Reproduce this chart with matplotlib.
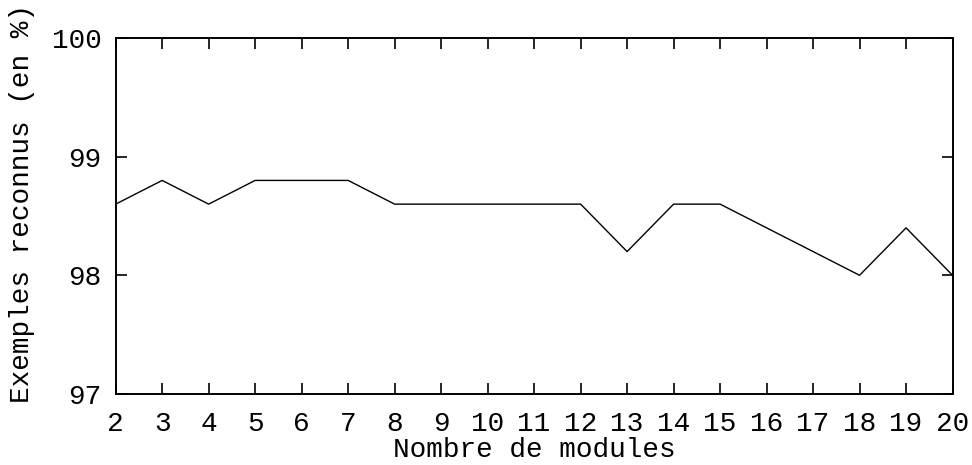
import matplotlib
matplotlib.use("Agg")
import matplotlib.pyplot as plt

# =========================
# Data
# =========================
nb_modules = [2, 3, 4, 5, 6, 7, 8, 9, 10, 11, 12, 13, 14, 15, 16, 17, 18, 19, 20]
reconnus = [98.6, 98.8, 98.6, 98.8, 98.8, 98.8, 98.6, 98.6, 98.6, 98.6,
            98.6, 98.2, 98.6, 98.6, 98.4, 98.2, 98.0, 98.4, 98.0]
y_ticks = [97, 98, 99, 100]

plt.rcParams["font.family"] = ["Liberation Mono", "DejaVu Sans Mono"]

fig = plt.figure(figsize=(9.72, 4.65), dpi=100)
ax = fig.add_axes([0.119, 0.153, 0.861, 0.765])

ax.plot(nb_modules, reconnus, color="black", linewidth=1.0)

ax.set_xlim(2, 20)
ax.set_ylim(97, 100)
ax.set_xticks(nb_modules)
ax.set_yticks(y_ticks)
ax.tick_params(direction="in", top=True, right=True, length=8, width=1.2,
               labelsize=20, pad=10)
ax.tick_params(axis="x", pad=12)

for spine in ax.spines.values():
    spine.set_linewidth(1.4)

ax.set_xlabel("Nombre de modules", fontsize=20, labelpad=0)
ax.set_ylabel("Exemples reconnus (en %)", fontsize=20)
ax.yaxis.set_label_coords(-0.096, 0.535)

fig.savefig("out.png", dpi=100)
